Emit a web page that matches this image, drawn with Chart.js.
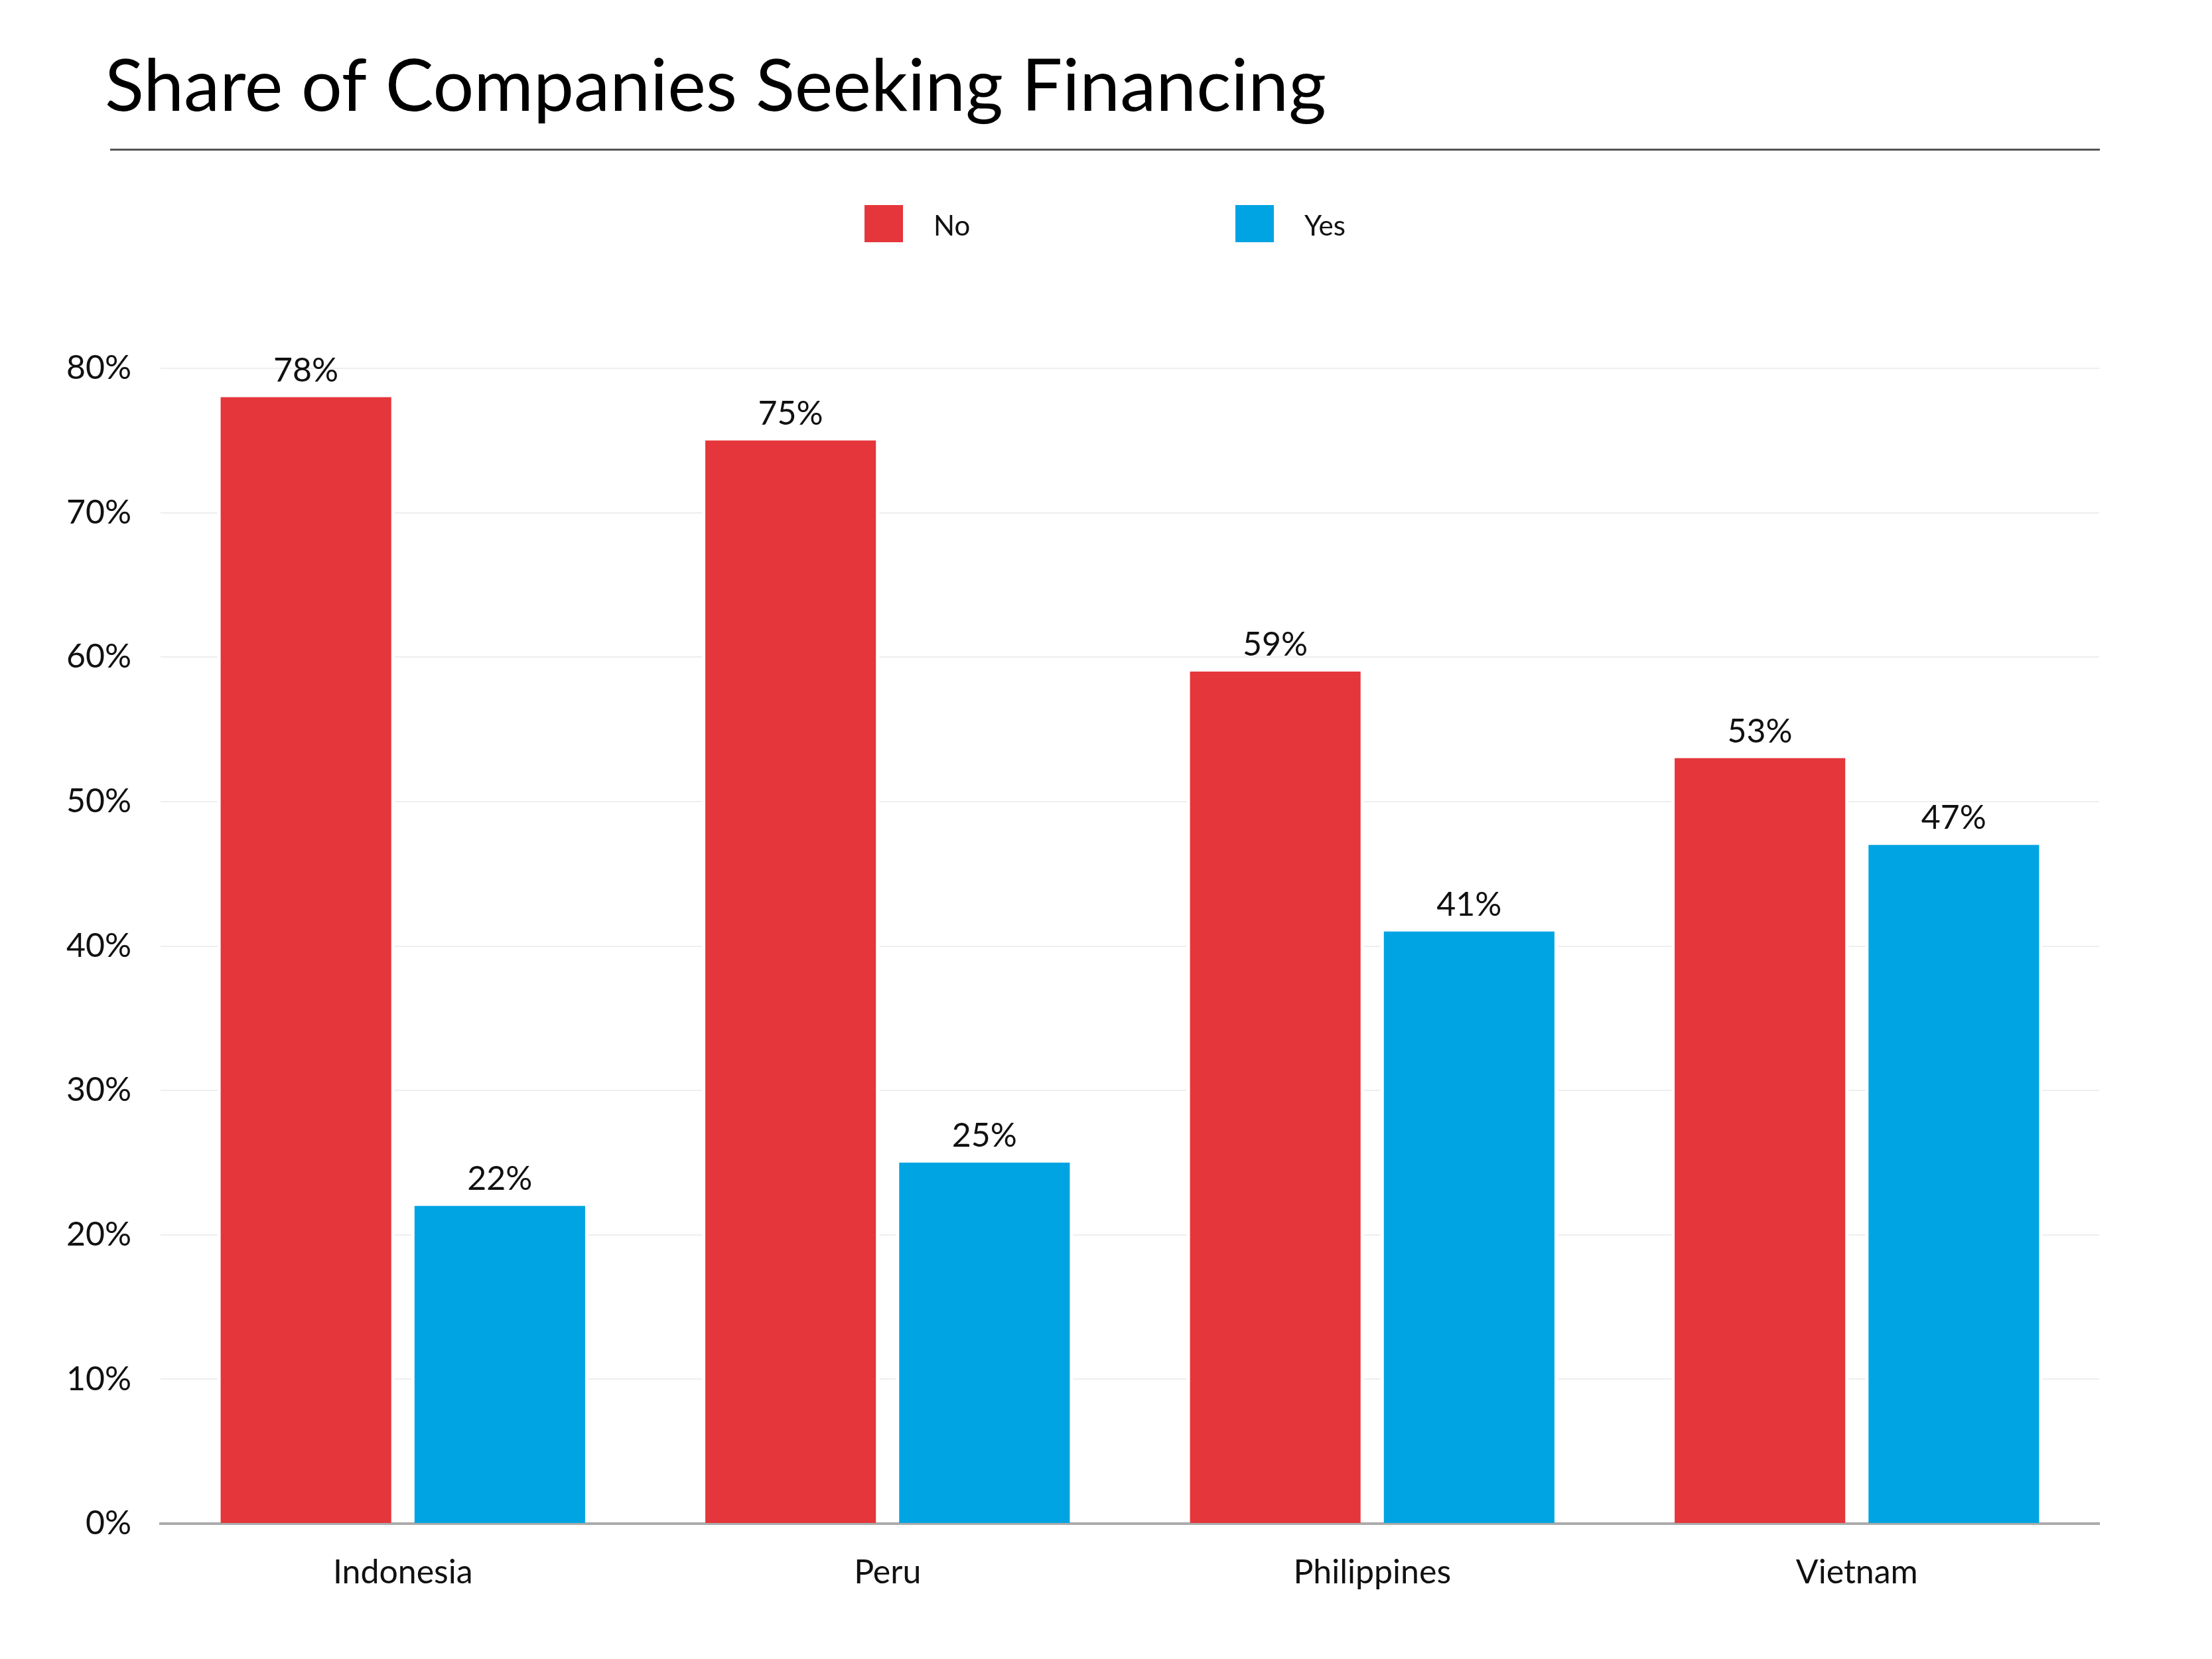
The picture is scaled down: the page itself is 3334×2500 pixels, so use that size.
<!DOCTYPE html>
<html>
<head>
<meta charset="utf-8">
<script src="https://cdn.jsdelivr.net/npm/chart.js@4/dist/chart.umd.min.js"></script>
<style>
  html, body { margin: 0; padding: 0; background: #fff; }
  #wrap { width: 3334px; height: 2500px; position: relative; }
</style>
</head>
<body>
<div id="wrap"><canvas id="chart" width="3334" height="2500"></canvas></div>
<script>
const titleText = 'Share of Companies Seeking Financing';
const countries = ['Indonesia', 'Peru', 'Philippines', 'Vietnam'];
const noValues = [78, 75, 59, 53];
const yesValues = [22, 25, 41, 47];
const seriesNames = ['No', 'Yes'];
const seriesColors = ['#E5363B', '#00A4E2'];

const FONT = 'Lato, "Noto Sans", sans-serif';

// white halo around bars so the gridlines stop short of them
const barHalo = {
    id: 'barHalo',
    beforeDatasetsDraw(chart) {
        const ctx = chart.ctx;
        ctx.save();
        ctx.fillStyle = '#fff';
        chart.data.datasets.forEach((ds, i) => {
            chart.getDatasetMeta(i).data.forEach(bar => {
                const m = 5;
                ctx.fillRect(bar.x - bar.width / 2 - m, bar.y - m, bar.width + 2 * m, bar.base - bar.y + m - 3);
            });
        });
        ctx.restore();
    }
};

// value labels above each bar
const valueLabels = {
    id: 'valueLabels',
    afterDatasetsDraw(chart) {
        const ctx = chart.ctx;
        ctx.save();
        ctx.font = '400 50px ' + FONT;
        ctx.fillStyle = '#111';
        ctx.textAlign = 'center';
        ctx.textBaseline = 'alphabetic';
        chart.data.datasets.forEach((ds, i) => {
            chart.getDatasetMeta(i).data.forEach((bar, j) => {
                ctx.fillText(ds.data[j] + '%', bar.x, bar.y - 24);
            });
        });
        ctx.restore();
    }
};

// title, rule and legend
const header = {
    id: 'header',
    afterDraw(chart) {
        const ctx = chart.ctx;
        ctx.save();
        ctx.fillStyle = '#000';
        ctx.textAlign = 'left';
        ctx.textBaseline = 'alphabetic';
        ctx.font = '400 109px ' + FONT;
        ctx.fillText(titleText, 158, 167);

        ctx.strokeStyle = '#555';
        ctx.lineWidth = 3;
        ctx.beginPath();
        ctx.moveTo(166, 225.5);
        ctx.lineTo(3165, 225.5);
        ctx.stroke();

        const boxX = [1303, 1862];
        ctx.font = '400 42px ' + FONT;
        ctx.textBaseline = 'middle';
        chart.data.datasets.forEach((ds, i) => {
            ctx.fillStyle = ds.backgroundColor;
            ctx.fillRect(boxX[i], 309, 58, 56);
            ctx.fillStyle = '#111';
            ctx.fillText(ds.label, boxX[i] + 104, 341);
        });
        ctx.restore();
    }
};

new Chart(document.getElementById('chart'), {
    type: 'bar',
    data: {
        labels: countries,
        datasets: [
            { label: seriesNames[0], data: noValues, backgroundColor: seriesColors[0] },
            { label: seriesNames[1], data: yesValues, backgroundColor: seriesColors[1] }
        ]
    },
    options: {
        responsive: false,
        animation: false,
        devicePixelRatio: 1,
        categoryPercentage: 0.8,
        barPercentage: 0.88,
        layout: { padding: { left: 0, right: 170, top: 555, bottom: 54 } },
        plugins: {
            legend: { display: false },
            title: { display: false },
            tooltip: { enabled: false }
        },
        scales: {
            x: {
                grid: { display: false, drawTicks: false },
                border: { display: true, color: '#ABABAB', width: 4 },
                ticks: { color: '#111', font: { family: FONT, size: 50 }, padding: 44 },
                afterFit(scale) { scale.height = 150; }
            },
            y: {
                min: 0,
                max: 80,
                grid: { color: '#EEEEEE', lineWidth: 2, drawTicks: false },
                border: { display: false },
                ticks: {
                    stepSize: 10,
                    color: '#111',
                    padding: 44,
                    font: { family: FONT, size: 50 },
                    callback: v => v + '%'
                },
                afterFit(scale) { scale.width = 242; }
            }
        }
    },
    plugins: [barHalo, valueLabels, header]
});
</script>
</body>
</html>
